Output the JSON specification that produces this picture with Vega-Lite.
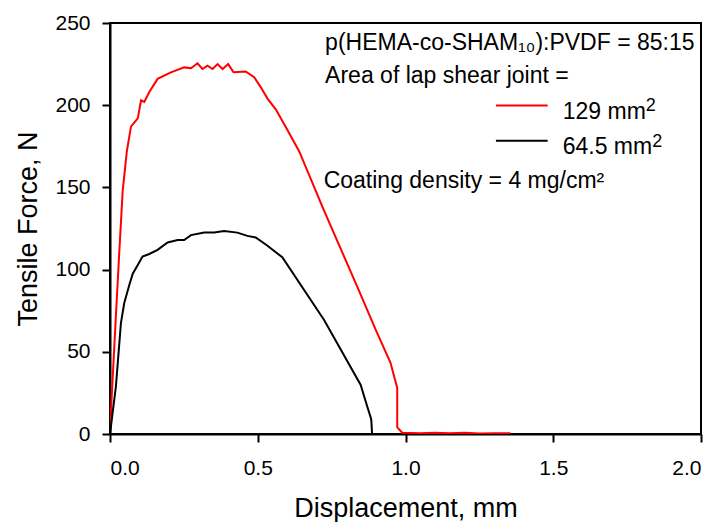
{
  "$schema": "https://vega.github.io/schema/vega-lite/v6.json",
  "autosize": {"type": "none"},
  "padding": {"left": 110, "top": 23, "right": 21, "bottom": 88},
  "width": 591,
  "height": 411,
  "background": "white",
  "config": {
    "font": "Liberation Sans",
    "view": {"stroke": "black", "strokeWidth": 2},
    "axis": {
      "grid": false,
      "domainColor": "black",
      "domainWidth": 2,
      "tickColor": "black",
      "tickWidth": 2,
      "tickSize": 8,
      "labelColor": "black",
      "labelFont": "Liberation Sans",
      "labelFontSize": 21,
      "titleColor": "black",
      "titleFont": "Liberation Sans",
      "titleFontSize": 27,
      "titleFontWeight": "normal"
    }
  },
  "datasets": {
    "curves": [
      {"series": "129 mm2", "i": 0, "x": 0.0, "y": 0},
      {"series": "129 mm2", "i": 1, "x": 0.005, "y": 20},
      {"series": "129 mm2", "i": 2, "x": 0.02, "y": 72},
      {"series": "129 mm2", "i": 3, "x": 0.03, "y": 106},
      {"series": "129 mm2", "i": 4, "x": 0.043, "y": 148},
      {"series": "129 mm2", "i": 5, "x": 0.057, "y": 172},
      {"series": "129 mm2", "i": 6, "x": 0.071, "y": 187},
      {"series": "129 mm2", "i": 7, "x": 0.094, "y": 192},
      {"series": "129 mm2", "i": 8, "x": 0.105, "y": 203},
      {"series": "129 mm2", "i": 9, "x": 0.116, "y": 202},
      {"series": "129 mm2", "i": 10, "x": 0.133, "y": 208},
      {"series": "129 mm2", "i": 11, "x": 0.161, "y": 216},
      {"series": "129 mm2", "i": 12, "x": 0.206, "y": 220},
      {"series": "129 mm2", "i": 13, "x": 0.251, "y": 223},
      {"series": "129 mm2", "i": 14, "x": 0.274, "y": 222.5},
      {"series": "129 mm2", "i": 15, "x": 0.296, "y": 225.5},
      {"series": "129 mm2", "i": 16, "x": 0.313, "y": 222},
      {"series": "129 mm2", "i": 17, "x": 0.33, "y": 224},
      {"series": "129 mm2", "i": 18, "x": 0.347, "y": 222},
      {"series": "129 mm2", "i": 19, "x": 0.364, "y": 225},
      {"series": "129 mm2", "i": 20, "x": 0.381, "y": 222},
      {"series": "129 mm2", "i": 21, "x": 0.4, "y": 225},
      {"series": "129 mm2", "i": 22, "x": 0.418, "y": 220},
      {"series": "129 mm2", "i": 23, "x": 0.459, "y": 220.5},
      {"series": "129 mm2", "i": 24, "x": 0.488, "y": 217},
      {"series": "129 mm2", "i": 25, "x": 0.51, "y": 211},
      {"series": "129 mm2", "i": 26, "x": 0.533, "y": 204},
      {"series": "129 mm2", "i": 27, "x": 0.561, "y": 197.5},
      {"series": "129 mm2", "i": 28, "x": 0.6, "y": 185},
      {"series": "129 mm2", "i": 29, "x": 0.64, "y": 172},
      {"series": "129 mm2", "i": 30, "x": 0.724, "y": 136},
      {"series": "129 mm2", "i": 31, "x": 0.837, "y": 89.5},
      {"series": "129 mm2", "i": 32, "x": 0.899, "y": 63.5},
      {"series": "129 mm2", "i": 33, "x": 0.949, "y": 43.5},
      {"series": "129 mm2", "i": 34, "x": 0.972, "y": 28},
      {"series": "129 mm2", "i": 35, "x": 0.972, "y": 4},
      {"series": "129 mm2", "i": 36, "x": 0.989, "y": 0.8},
      {"series": "129 mm2", "i": 37, "x": 1.05, "y": 0.5},
      {"series": "129 mm2", "i": 38, "x": 1.1, "y": 0.8},
      {"series": "129 mm2", "i": 39, "x": 1.15, "y": 0.4},
      {"series": "129 mm2", "i": 40, "x": 1.2, "y": 0.7},
      {"series": "129 mm2", "i": 41, "x": 1.25, "y": 0.3},
      {"series": "129 mm2", "i": 42, "x": 1.3, "y": 0.5},
      {"series": "129 mm2", "i": 43, "x": 1.355, "y": 0.4},
      {"series": "64.5 mm2", "i": 0, "x": 0.0, "y": 0},
      {"series": "64.5 mm2", "i": 1, "x": 0.02, "y": 29},
      {"series": "64.5 mm2", "i": 2, "x": 0.037, "y": 67.5},
      {"series": "64.5 mm2", "i": 3, "x": 0.048, "y": 79.5},
      {"series": "64.5 mm2", "i": 4, "x": 0.065, "y": 90.5},
      {"series": "64.5 mm2", "i": 5, "x": 0.077, "y": 97.5},
      {"series": "64.5 mm2", "i": 6, "x": 0.093, "y": 102.5},
      {"series": "64.5 mm2", "i": 7, "x": 0.11, "y": 108},
      {"series": "64.5 mm2", "i": 8, "x": 0.133, "y": 109.5},
      {"series": "64.5 mm2", "i": 9, "x": 0.161, "y": 112},
      {"series": "64.5 mm2", "i": 10, "x": 0.195, "y": 116.5},
      {"series": "64.5 mm2", "i": 11, "x": 0.229, "y": 118},
      {"series": "64.5 mm2", "i": 12, "x": 0.251, "y": 118},
      {"series": "64.5 mm2", "i": 13, "x": 0.274, "y": 121},
      {"series": "64.5 mm2", "i": 14, "x": 0.319, "y": 122.5},
      {"series": "64.5 mm2", "i": 15, "x": 0.353, "y": 122.5},
      {"series": "64.5 mm2", "i": 16, "x": 0.386, "y": 123.5},
      {"series": "64.5 mm2", "i": 17, "x": 0.431, "y": 122.5},
      {"series": "64.5 mm2", "i": 18, "x": 0.465, "y": 120.5},
      {"series": "64.5 mm2", "i": 19, "x": 0.493, "y": 119.5},
      {"series": "64.5 mm2", "i": 20, "x": 0.533, "y": 114.5},
      {"series": "64.5 mm2", "i": 21, "x": 0.583, "y": 107.5},
      {"series": "64.5 mm2", "i": 22, "x": 0.724, "y": 69.5},
      {"series": "64.5 mm2", "i": 23, "x": 0.848, "y": 30},
      {"series": "64.5 mm2", "i": 24, "x": 0.87, "y": 17},
      {"series": "64.5 mm2", "i": 25, "x": 0.884, "y": 9},
      {"series": "64.5 mm2", "i": 26, "x": 0.887, "y": 0}
    ]
  },
  "layer": [
    {
      "data": {"name": "curves"},
      "mark": {"type": "line", "strokeWidth": 2, "clip": true},
      "encoding": {
        "x": {
          "field": "x", "type": "quantitative",
          "scale": {"domain": [0, 2], "nice": false, "zero": false},
          "axis": {"values": [0, 0.5, 1, 1.5, 2], "format": ".1f", "labelPadding": 15, "title": "Displacement, mm", "titleY": 82, "titleBaseline": "alphabetic"}
        },
        "y": {
          "field": "y", "type": "quantitative",
          "scale": {"domain": [0, 250], "nice": false},
          "axis": {"values": [0, 50, 100, 150, 200, 250], "labelPadding": 12, "title": "Tensile Force, N", "titleX": -74, "titleBaseline": "alphabetic"}
        },
        "color": {
          "field": "series", "type": "nominal",
          "scale": {"domain": ["129 mm2", "64.5 mm2"], "range": ["#ff0000", "#000000"]},
          "legend": null
        },
        "order": {"field": "i", "type": "quantitative"}
      }
    },
    {
      "data": {"values": [{}]},
      "mark": {"type": "text", "align": "left", "baseline": "alphabetic", "fontSize": 23, "font": "Liberation Sans", "color": "black"},
      "encoding": {"x": {"datum": 0.728}, "y": {"datum": 233.8}, "text": {"value": "p(HEMA-co-SHAM₁₀):PVDF = 85:15"}}
    },
    {
      "data": {"values": [{}]},
      "mark": {"type": "text", "align": "left", "baseline": "alphabetic", "fontSize": 23, "font": "Liberation Sans", "color": "black"},
      "encoding": {"x": {"datum": 0.728}, "y": {"datum": 213.2}, "text": {"value": "Area of lap shear joint ="}}
    },
    {
      "data": {"values": [{}]},
      "mark": {"type": "rule", "color": "#ff0000", "strokeWidth": 2},
      "encoding": {"x": {"datum": 1.306}, "x2": {"datum": 1.481}, "y": {"datum": 199.8}}
    },
    {
      "data": {"values": [{}]},
      "mark": {"type": "rule", "color": "black", "strokeWidth": 2},
      "encoding": {"x": {"datum": 1.306}, "x2": {"datum": 1.481}, "y": {"datum": 178.3}}
    },
    {
      "data": {"values": [{}]},
      "mark": {"type": "text", "align": "left", "baseline": "alphabetic", "fontSize": 23, "font": "Liberation Sans", "color": "black"},
      "encoding": {"x": {"datum": 1.532}, "y": {"datum": 191.9}, "text": {"value": "129 mm"}}
    },
    {
      "data": {"values": [{}]},
      "mark": {"type": "text", "align": "left", "baseline": "alphabetic", "fontSize": 18, "font": "Liberation Sans", "color": "black"},
      "encoding": {"x": {"datum": 1.813}, "y": {"datum": 196.3}, "text": {"value": "2"}}
    },
    {
      "data": {"values": [{}]},
      "mark": {"type": "text", "align": "left", "baseline": "alphabetic", "fontSize": 23, "font": "Liberation Sans", "color": "black"},
      "encoding": {"x": {"datum": 1.532}, "y": {"datum": 170.1}, "text": {"value": "64.5 mm"}}
    },
    {
      "data": {"values": [{}]},
      "mark": {"type": "text", "align": "left", "baseline": "alphabetic", "fontSize": 18, "font": "Liberation Sans", "color": "black"},
      "encoding": {"x": {"datum": 1.835}, "y": {"datum": 174.5}, "text": {"value": "2"}}
    },
    {
      "data": {"values": [{}]},
      "mark": {"type": "text", "align": "left", "baseline": "alphabetic", "fontSize": 23, "font": "Liberation Sans", "color": "black"},
      "encoding": {"x": {"datum": 0.723}, "y": {"datum": 149.5}, "text": {"value": "Coating density = 4 mg/cm²"}}
    }
  ]
}
